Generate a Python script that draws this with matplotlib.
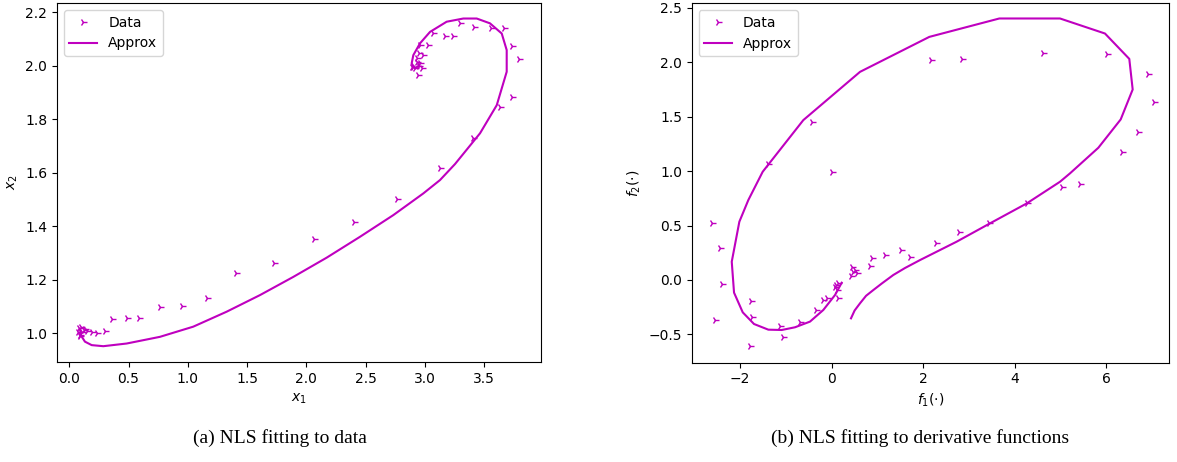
import numpy as np
import matplotlib
matplotlib.use('Agg')
import matplotlib.pyplot as plt

# (a) NLS fitting to data: state trajectory x1 vs x2
data_x1 = [2.768, 2.403, 2.065, 1.725, 1.404, 1.162, 0.954, 0.763, 0.591, 0.487,
           0.363, 0.304, 0.231, 0.190, 0.150, 0.120, 0.100, 0.085, 0.090, 0.110,
           0.130, 0.076, 0.090,
           3.128, 3.404, 3.635, 3.733, 3.797, 3.736, 3.671, 3.559, 3.413, 3.297,
           3.241, 3.171, 3.067, 3.024, 2.960, 2.954, 2.932, 2.932, 2.960, 2.889,
           2.917, 2.950, 2.945, 2.974, 2.987, 2.903]
data_x2 = [1.500, 1.415, 1.350, 1.263, 1.225, 1.133, 1.103, 1.096, 1.055, 1.056,
           1.051, 1.007, 0.999, 1.004, 1.007, 1.012, 1.022, 1.018, 0.993, 1.003,
           1.015, 1.005, 0.989,
           1.616, 1.730, 1.844, 1.884, 2.023, 2.074, 2.141, 2.140, 2.143, 2.158,
           2.111, 2.111, 2.120, 2.077, 2.077, 2.048, 2.027, 2.015, 2.008, 1.996,
           1.990, 2.000, 1.964, 1.990, 2.039, 1.996]

approx_x1 = [0.090, 0.100, 0.132, 0.189, 0.287, 0.484, 0.765, 1.046, 1.328, 1.609,
             1.890, 2.172, 2.453, 2.734, 2.987, 3.128, 3.255, 3.466, 3.607, 3.691,
             3.691, 3.649, 3.550, 3.438, 3.325, 3.184, 3.044, 2.959, 2.903, 2.889,
             2.917, 2.945, 2.950]
approx_x2 = [1.015, 0.990, 0.968, 0.955, 0.951, 0.961, 0.986, 1.024, 1.080, 1.142,
             1.210, 1.282, 1.360, 1.441, 1.522, 1.572, 1.632, 1.747, 1.852, 1.977,
             2.058, 2.120, 2.158, 2.176, 2.176, 2.164, 2.126, 2.083, 2.039, 2.008,
             1.990, 1.998, 2.005]

# (b) NLS fitting to derivative functions: f1 vs f2
data_f1 = [2.161, 2.845, 4.620, 6.011, 6.906, 7.030, 6.688, 6.338, 5.421, 5.035,
           4.258, 3.441, 2.786, 2.277, 1.709, 1.506, 1.164, 0.873, 0.836, 0.450,
           0.509, 0.546, 0.472, 0.421, 0.144, 0.072, 0.109, 0.144, -0.109, -0.197,
           -0.343, -0.692, -1.129, -1.057, -1.784, -1.747, -1.769, -2.548, -2.402,
           -2.439, -2.620, -1.384, -0.423, 0.000, 0.090]
data_f2 = [2.018, 2.028, 2.086, 2.073, 1.887, 1.636, 1.355, 1.171, 0.881, 0.850,
           0.709, 0.520, 0.443, 0.336, 0.214, 0.275, 0.229, 0.199, 0.131, 0.122,
           0.092, 0.061, 0.076, 0.037, -0.030, -0.061, -0.092, -0.168, -0.168, -0.183,
           -0.275, -0.388, -0.422, -0.526, -0.602, -0.336, -0.190, -0.367, -0.037,
           0.297, 0.526, 1.061, 1.452, 0.994, -0.050]

approx_f1 = [0.421, 0.500, 0.618, 0.750, 0.909, 1.100, 1.345, 1.600, 1.928, 2.729,
             3.456, 4.258, 4.985, 5.203, 5.822, 6.310, 6.572, 6.498, 5.967, 4.985,
             3.660, 2.131, 0.618, -0.620, -1.507, -1.821, -2.017, -2.183, -2.133,
             -1.943, -1.697, -1.384, -1.092, -0.801, -0.474, -0.183, 0.072, 0.218]
approx_f2 = [-0.352, -0.280, -0.214, -0.145, -0.092, -0.030, 0.046, 0.110, 0.183, 0.352,
             0.520, 0.703, 0.902, 0.979, 1.214, 1.474, 1.749, 2.030, 2.263, 2.401,
             2.401, 2.232, 1.911, 1.468, 0.994, 0.734, 0.535, 0.168, -0.116,
             -0.297, -0.404, -0.456, -0.459, -0.434, -0.382, -0.275, -0.138, -0.025]

fig = plt.figure(figsize=(11.77, 4.62), dpi=100)

ax1 = fig.add_axes([0.0484, 0.2165, 0.411, 0.777])
ax1.plot(data_x1, data_x2, '4', color='m', label='Data')
ax1.plot(approx_x1, approx_x2, '-', color='m', label='Approx')
ax1.set_xlim(-0.104, 3.978)
ax1.set_ylim(0.892, 2.234)
ax1.set_xticks(np.arange(0, 3.51, 0.5))
ax1.set_yticks(np.arange(1.0, 2.21, 0.2))
ax1.set_xlabel('$x_1$')
ax1.set_ylabel('$x_2$')
ax1.legend(loc='upper left')

ax2 = fig.add_axes([0.5877, 0.2150, 0.4055, 0.778])
ax2.plot(data_f1, data_f2, '4', color='m', label='Data')
ax2.plot(approx_f1, approx_f2, '-', color='m', label='Approx')
ax2.set_xlim(-3.057, 7.365)
ax2.set_ylim(-0.759, 2.541)
ax2.set_xticks([-2, 0, 2, 4, 6])
ax2.set_yticks(np.arange(-0.5, 2.51, 0.5))
ax2.set_xlabel(r'$f_1(\cdot)$')
ax2.set_ylabel(r'$f_2(\cdot)$')
ax2.legend(loc='upper left')

fig.text(280 / 1177, 1 - 438 / 462, '(a) NLS fitting to data', ha='center', va='center',
         family='Liberation Serif', fontsize=14)
fig.text(920 / 1177, 1 - 438 / 462, '(b) NLS fitting to derivative functions', ha='center',
         va='center', family='Liberation Serif', fontsize=14)

fig.savefig('out.png', dpi=100)
